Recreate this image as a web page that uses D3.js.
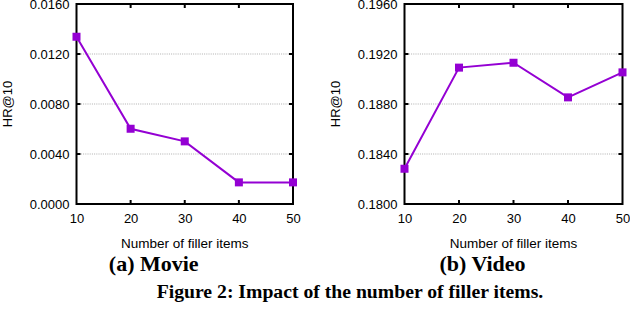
<!DOCTYPE html>
<html><head><meta charset="utf-8">
<script src="https://cdn.jsdelivr.net/npm/d3@7"></script>
<style>body{margin:0;background:#fff}svg{display:block}</style>
</head><body>
<svg id="c" width="630" height="310"></svg>
<script>
const fillerItems = [10, 20, 30, 40, 50];
const movieHR = [0.01338, 0.00602, 0.00501, 0.00173, 0.00173];
const videoHR = [0.18282, 0.19091, 0.19130, 0.18853, 0.19053];
const movieTicks = [0.0000, 0.0040, 0.0080, 0.0120, 0.0160];
const videoTicks = [0.1800, 0.1840, 0.1880, 0.1920, 0.1960];
const panelTitles = ["(a) Movie", "(b) Video"];
const xLabel = "Number of filler items";
const yLabel = "HR@10";
const caption = "Figure 2: Impact of the number of filler items.";

const svg = d3.select("#c");
const color = "#9400d3";
const panels = [
  {left: 76.5, right: 293, vals: movieHR, ticks: movieTicks, title: panelTitles[0]},
  {left: 404.5, right: 622.5, vals: videoHR, ticks: videoTicks, title: panelTitles[1]}
];
const plotTop = 4, plotBottom = 204;
const sans = "Liberation Sans, Arial, sans-serif";
const serif = "Liberation Serif, Times New Roman, serif";

panels.forEach(p => {
  const x = d3.scaleLinear().domain([10, 50]).range([p.left, p.right]);
  const y = d3.scaleLinear().domain([p.ticks[0], p.ticks[p.ticks.length-1]]).range([plotBottom, plotTop]);
  const g = svg.append("g");
  g.selectAll("line.grid").data(p.ticks.slice(1, -1)).join("line")
    .attr("x1", p.left).attr("x2", p.right)
    .attr("y1", d => y(d)).attr("y2", d => y(d))
    .attr("stroke", "#b0b0b0").attr("stroke-width", 1.2).attr("stroke-dasharray", "1,1.2");
  const fmt = d3.format(".4f");
  const ax = g.append("g").attr("transform", `translate(${p.left},0)`)
    .call(d3.axisLeft(y).tickValues(p.ticks).tickFormat(fmt).tickSize(0).tickPadding(7));
  ax.select(".domain").remove();
  ax.selectAll("text").attr("font-family", sans).attr("font-size", 13).attr("fill", "#000");
  const bx = g.append("g").attr("transform", `translate(0,${plotBottom})`)
    .call(d3.axisBottom(x).tickValues(fillerItems).tickSize(0).tickPadding(10));
  bx.select(".domain").remove();
  bx.selectAll("text").attr("font-family", sans).attr("font-size", 13).attr("fill", "#000");
  const tl = 4;
  g.selectAll("line.yt").data(p.ticks.slice(1, -1)).join("line")
    .attr("x1", p.left).attr("x2", p.left + tl).attr("y1", d => y(d)).attr("y2", d => y(d))
    .attr("stroke", "#000").attr("stroke-width", 2);
  g.selectAll("line.yt2").data(p.ticks.slice(1, -1)).join("line")
    .attr("x1", p.right).attr("x2", p.right - tl).attr("y1", d => y(d)).attr("y2", d => y(d))
    .attr("stroke", "#000").attr("stroke-width", 2);
  g.selectAll("line.xt").data(fillerItems.slice(1, -1)).join("line")
    .attr("x1", d => x(d)).attr("x2", d => x(d)).attr("y1", plotBottom).attr("y2", plotBottom - tl)
    .attr("stroke", "#000").attr("stroke-width", 2);
  g.selectAll("line.xt2").data(fillerItems.slice(1, -1)).join("line")
    .attr("x1", d => x(d)).attr("x2", d => x(d)).attr("y1", plotTop).attr("y2", plotTop + tl)
    .attr("stroke", "#000").attr("stroke-width", 2);
  g.append("rect").attr("x", p.left).attr("y", plotTop).attr("width", p.right - p.left).attr("height", plotBottom - plotTop)
    .attr("fill", "none").attr("stroke", "#000").attr("stroke-width", 2);
  const pts = fillerItems.map((d, i) => [d, p.vals[i]]);
  g.append("path").datum(pts)
    .attr("d", d3.line().x(d => x(d[0])).y(d => y(d[1])))
    .attr("fill", "none").attr("stroke", color).attr("stroke-width", 2);
  const ms = 8;
  g.selectAll("rect.m").data(pts).join("rect")
    .attr("x", d => x(d[0]) - ms/2).attr("y", d => y(d[1]) - ms/2)
    .attr("width", ms).attr("height", ms).attr("fill", color);
  const cx = (p.left + p.right) / 2;
  g.append("text").attr("x", cx).attr("y", 248).attr("text-anchor", "middle")
    .attr("font-family", sans).attr("font-size", 13.5).text(xLabel);
  g.append("text").attr("transform", `translate(${p.left - 64.5},${(plotTop+plotBottom)/2}) rotate(-90)`)
    .attr("text-anchor", "middle")
    .attr("font-family", sans).attr("font-size", 13).text(yLabel);
  g.append("text").attr("x", cx - 31).attr("y", 271).attr("text-anchor", "middle")
    .attr("font-family", serif).attr("font-weight", "bold").attr("font-size", 22).text(p.title);
});
svg.append("text").attr("x", 350).attr("y", 298).attr("text-anchor", "middle")
  .attr("font-family", serif).attr("font-weight", "bold").attr("font-size", 19.7).text(caption);
</script>
</body></html>
